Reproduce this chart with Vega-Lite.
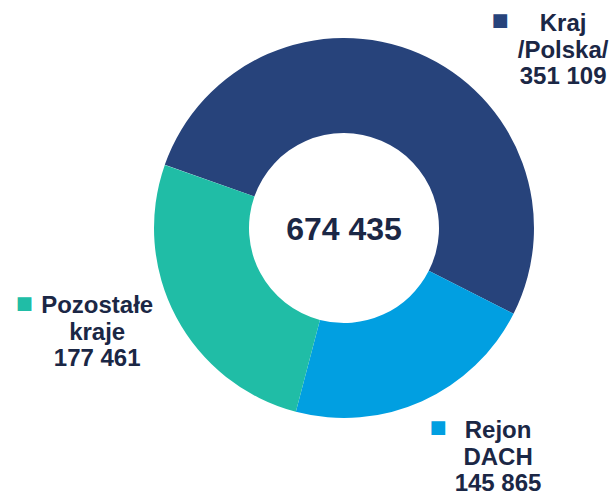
{
  "$schema": "https://vega.github.io/schema/vega-lite/v6.json",
  "width": 540,
  "height": 456,
  "autosize": {"type": "none"},
  "padding": {"left": 74, "top": 0, "right": 0, "bottom": 40},
  "background": "white",
  "config": {
    "view": {"stroke": null},
    "locale": {"number": {"decimal": ",", "thousands": " ", "grouping": [3], "currency": ["", " zł"]}},
    "text": {"font": "Liberation Sans", "fontWeight": "bold", "fontSize": 24, "lineHeight": 26.5, "color": "#1B2745", "align": "center", "baseline": "alphabetic"}
  },
  "data": {
    "values": [
      {"name": "Kraj /Polska/", "value": 351109, "order": 1, "label": ["Kraj", "/Polska/", "351 109"]},
      {"name": "Rejon DACH", "value": 145865, "order": 2, "label": ["Rejon", "DACH", "145 865"]},
      {"name": "Pozostałe kraje", "value": 177461, "order": 3, "label": ["Pozostałe", "kraje", "177 461"]}
    ]
  },
  "transform": [
    {"stack": "value", "groupby": [], "sort": [{"field": "order", "order": "ascending"}], "as": ["v0", "v1"]},
    {"calculate": "(datum.v0 + datum.v1) / 2", "as": "mid"}
  ],
  "layer": [
    {
      "mark": {"type": "arc", "innerRadius": 95, "outerRadius": 190},
      "encoding": {
        "theta": {"field": "v1", "type": "quantitative", "stack": null, "scale": {"zero": true, "nice": false, "range": [-1.232, 5.051]}},
        "theta2": {"field": "v0"},
        "color": {"field": "name", "type": "nominal", "legend": null,
          "scale": {"domain": ["Kraj /Polska/", "Rejon DACH", "Pozostałe kraje"], "range": ["#27437B", "#019FE1", "#20BDA6"]}}
      }
    },
    {
      "transform": [{"filter": "datum.order == 1"}],
      "mark": {"type": "text", "radius": 190, "dx": 144.5, "dy": -22},
      "encoding": {
        "theta": {"field": "mid", "type": "quantitative", "stack": null},
        "text": {"field": "label"}
      }
    },
    {
      "transform": [{"filter": "datum.order == 2"}],
      "mark": {"type": "text", "radius": 190, "dx": 76, "dy": 37},
      "encoding": {
        "theta": {"field": "mid", "type": "quantitative", "stack": null},
        "text": {"field": "label"}
      }
    },
    {
      "transform": [{"filter": "datum.order == 3"}],
      "mark": {"type": "text", "radius": 190, "dx": -79, "dy": -4},
      "encoding": {
        "theta": {"field": "mid", "type": "quantitative", "stack": null},
        "text": {"field": "label"}
      }
    },
    {
      "transform": [{"filter": "datum.order == 1"}],
      "mark": {"type": "text", "text": "■", "font": "DejaVu Sans", "fontSize": 18, "baseline": "middle", "radius": 190, "dx": 81.5, "dy": -32},
      "encoding": {
        "theta": {"field": "mid", "type": "quantitative", "stack": null},
        "color": {"field": "name", "type": "nominal", "legend": null}
      }
    },
    {
      "transform": [{"filter": "datum.order == 2"}],
      "mark": {"type": "text", "text": "■", "font": "DejaVu Sans", "fontSize": 18, "baseline": "middle", "radius": 190, "dx": 16, "dy": 27},
      "encoding": {
        "theta": {"field": "mid", "type": "quantitative", "stack": null},
        "color": {"field": "name", "type": "nominal", "legend": null}
      }
    },
    {
      "transform": [{"filter": "datum.order == 3"}],
      "mark": {"type": "text", "text": "■", "font": "DejaVu Sans", "fontSize": 18, "baseline": "middle", "radius": 190, "dx": -152, "dy": -13.5},
      "encoding": {
        "theta": {"field": "mid", "type": "quantitative", "stack": null},
        "color": {"field": "name", "type": "nominal", "legend": null}
      }
    },
    {
      "transform": [{"aggregate": [{"op": "sum", "field": "value", "as": "total"}]}],
      "mark": {"type": "text", "fontSize": 32, "baseline": "middle", "dy": 2},
      "encoding": {
        "text": {"field": "total", "type": "quantitative", "format": ",d"}
      }
    }
  ]
}
